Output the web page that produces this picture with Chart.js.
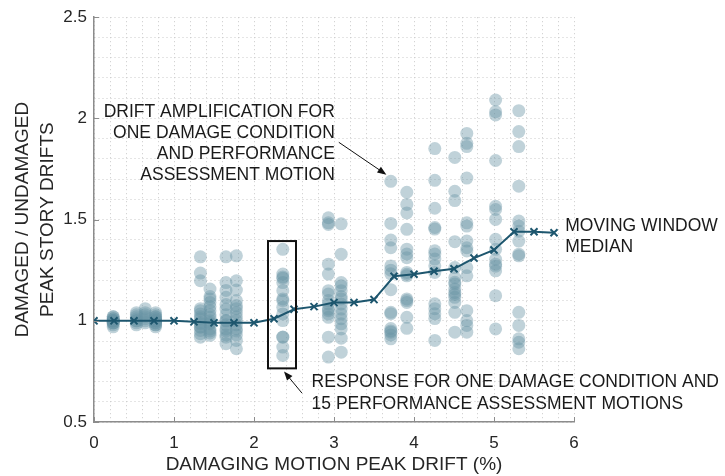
<!DOCTYPE html>
<html>
<head>
<meta charset="utf-8">
<script src="https://cdn.jsdelivr.net/npm/chart.js@4.4.1/dist/chart.umd.min.js"></script>
<style>
  html, body { margin: 0; padding: 0; background: #fff; }
  #wrap { width: 725px; height: 476px; }
</style>
</head>
<body>
<div id="wrap"><canvas id="driftChart"></canvas></div>
<script>
// Damaging-motion drift levels (%) of each damage condition
const driftLevels = [0.24, 0.53, 0.64, 0.77, 1.33, 1.45, 1.65, 1.78, 2.36, 2.93, 3.09, 3.71, 3.91, 4.26, 4.51, 4.66, 5.02, 5.31];

// Damaged / undamaged peak story drift ratios, one list per damage condition
const ratios024 = [1.0, 1.0, 0.99, 1.01, 1.0, 0.98, 1.02, 1.0, 0.99, 1.01, 1.0, 0.97, 1.02, 1.0, 0.99];
const ratios053 = [1.0, 1.01, 0.99, 1.03, 1.04, 1.0, 0.98, 1.02];
const ratios064 = [1.0, 1.06, 1.04, 1.02, 0.99, 1.01, 1.03];
const ratios077 = [1.0, 1.02, 0.98, 1.04, 0.97, 1.01, 0.99, 1.03, 1.0, 0.98, 1.02, 1.0, 0.99, 1.01, 1.0];
const ratios133 = [1.316, 1.236, 1.198, 1.06, 1.05, 1.034, 1.02, 1.01, 0.99, 0.985, 0.968, 0.952, 0.936, 0.919, 0.97];
const ratios145 = [1.157, 1.108, 1.09, 1.07, 1.05, 1.03, 1.017, 1.0, 0.99, 0.985, 0.96, 0.95, 0.94, 0.928, 1.12];
const ratios165 = [1.316, 1.189, 1.15, 1.116, 1.08, 1.058, 1.03, 1.001, 0.98, 0.96, 0.95, 0.93, 0.919, 0.887, 1.0];
const ratios178 = [1.321, 1.198, 1.152, 1.1, 1.075, 1.06, 1.04, 1.02, 1.001, 0.98, 0.96, 0.95, 0.93, 0.903, 0.862];
const ratios236 = [1.353, 1.231, 1.217, 1.21, 1.189, 1.149, 1.108, 1.10, 1.067, 1.034, 1.001, 0.919, 0.92, 0.870, 0.829];
const ratios293 = [1.509, 1.484, 1.476, 1.280, 1.231, 1.149, 1.132, 1.10, 1.083, 1.058, 1.05, 1.034, 1.017, 0.919, 0.821];
const ratios309 = [1.479, 1.329, 1.189, 1.173, 1.149, 1.12, 1.108, 1.083, 1.058, 1.034, 1.010, 0.985, 0.960, 0.914, 0.845];
const ratios371 = [1.689, 1.481, 1.399, 1.361, 1.271, 1.232, 1.154, 1.042, 1.035, 0.962, 0.944, 0.93, 0.911, 0.95, 1.25];
const ratios391 = [1.635, 1.575, 1.533, 1.452, 1.354, 1.312, 1.239, 1.222, 1.108, 1.091, 1.017, 0.963, 1.23, 1.10, 1.33];
const ratios426 = [1.851, 1.694, 1.556, 1.461, 1.453, 1.346, 1.330, 1.305, 1.272, 1.239, 1.084, 1.060, 1.035, 1.011, 0.903];
const ratios451 = [1.807, 1.640, 1.594, 1.391, 1.263, 1.214, 1.19, 1.182, 1.157, 1.140, 1.13, 1.116, 1.091, 1.042, 0.944];
const ratios466 = [1.926, 1.877, 1.861, 1.705, 1.484, 1.468, 1.394, 1.361, 1.345, 1.263, 1.222, 1.050, 1.001, 0.977, 0.944];
const ratios502 = [2.091, 2.033, 2.017, 1.792, 1.566, 1.550, 1.501, 1.403, 1.353, 1.304, 1.280, 1.27, 1.247, 1.124, 0.960];
const ratios531 = [2.038, 1.935, 1.861, 1.665, 1.493, 1.468, 1.443, 1.394, 1.329, 1.321, 1.042, 0.977, 0.911, 0.894, 0.862];

const ratioColumns = [ratios024, ratios053, ratios064, ratios077, ratios133, ratios145, ratios165, ratios178,
  ratios236, ratios293, ratios309, ratios371, ratios391, ratios426, ratios451, ratios466, ratios502, ratios531];

// Moving window median
const medianX = [0, 0.25, 0.5, 0.75, 1.0, 1.25, 1.5, 1.75, 2.0, 2.25, 2.5, 2.75, 3.0, 3.25, 3.5, 3.75, 4.0, 4.25, 4.5, 4.75, 5.0, 5.25, 5.5, 5.75];
const medianY = [1.0, 1.0, 1.0, 1.0, 1.0, 0.995, 0.99, 0.99, 0.99, 1.01, 1.057, 1.07, 1.09, 1.09, 1.105, 1.22, 1.23, 1.245, 1.257, 1.31, 1.35, 1.44, 1.44, 1.435];

// Axis tick labels
const xTickLabels = ['0', '1', '2', '3', '4', '5', '6'];
const yTickLabels = ['0.5', '1', '1.5', '2', '2.5'];

const labelFont = '17.5px "Liberation Sans", Arial, sans-serif';
const titleFont = { family: '"Liberation Sans", Arial, sans-serif', size: 19 };

// scatter points built from the columns
const scatterPoints = [];
driftLevels.forEach((x, i) => {
    ratioColumns[i].forEach(y => scatterPoints.push({ x: x, y: y }));
});
const medianPoints = medianX.map((x, i) => ({ x: x, y: medianY[i] }));

function isMajor(v, step) {
    return Math.abs(v / step - Math.round(v / step)) < 1e-6;
}

function drawArrow(ctx, x1, y1, x2, y2) {
    const ang = Math.atan2(y2 - y1, x2 - x1);
    const len = 9, half = 3.5;
    ctx.beginPath();
    ctx.moveTo(x1, y1);
    ctx.lineTo(x2 - Math.cos(ang) * len * 0.8, y2 - Math.sin(ang) * len * 0.8);
    ctx.stroke();
    ctx.beginPath();
    ctx.moveTo(x2, y2);
    ctx.lineTo(x2 - Math.cos(ang) * len - Math.sin(ang) * half, y2 - Math.sin(ang) * len + Math.cos(ang) * half);
    ctx.lineTo(x2 - Math.cos(ang) * len + Math.sin(ang) * half, y2 - Math.sin(ang) * len - Math.cos(ang) * half);
    ctx.closePath();
    ctx.fill();
}

// inward tick marks, box, arrows and notes
const notesPlugin = {
    id: 'notes',
    afterDraw(chart) {
        const ctx = chart.ctx;
        const xs = chart.scales.x, ys = chart.scales.y;
        const area = chart.chartArea;
        ctx.save();

        // major tick marks pointing inward
        ctx.strokeStyle = '#8c8c8c';
        ctx.lineWidth = 1;
        xTickLabels.forEach(t => {
            const px = Math.round(xs.getPixelForValue(Number(t))) + 0.5;
            ctx.beginPath();
            ctx.moveTo(px, area.bottom);
            ctx.lineTo(px, area.bottom - 5);
            ctx.stroke();
        });
        yTickLabels.forEach(t => {
            const py = Math.round(ys.getPixelForValue(Number(t))) + 0.5;
            ctx.beginPath();
            ctx.moveTo(area.left, py);
            ctx.lineTo(area.left + 5, py);
            ctx.stroke();
        });

        ctx.strokeStyle = '#111';
        ctx.fillStyle = '#111';

        // box around one damage condition
        const bx1 = xs.getPixelForValue(2.175), bx2 = xs.getPixelForValue(2.525);
        const by1 = ys.getPixelForValue(1.394), by2 = ys.getPixelForValue(0.765);
        ctx.lineWidth = 2;
        ctx.strokeRect(bx1, by1, bx2 - bx1, by2 - by1);

        // arrows
        ctx.lineWidth = 1;
        drawArrow(ctx, xs.getPixelForValue(3.06), ys.getPixelForValue(1.882),
            xs.getPixelForValue(3.655), ys.getPixelForValue(1.722));
        drawArrow(ctx, xs.getPixelForValue(2.6), ys.getPixelForValue(0.6425),
            xs.getPixelForValue(2.375), ys.getPixelForValue(0.75));

        // notes
        ctx.font = labelFont;
        ctx.textBaseline = 'middle';
        ctx.fillStyle = '#1a1a1a';
        ctx.textAlign = 'right';
        const ampLines = ['DRIFT AMPLIFICATION FOR', 'ONE DAMAGE CONDITION', 'AND PERFORMANCE', 'ASSESSMENT MOTION'];
        ampLines.forEach((s, i) => {
            ctx.fillText(s, xs.getPixelForValue(3.01), ys.getPixelForValue(2.031) + i * 21);
        });
        ctx.textAlign = 'left';
        const respLines = ['RESPONSE FOR ONE DAMAGE CONDITION AND', '15 PERFORMANCE ASSESSMENT MOTIONS'];
        respLines.forEach((s, i) => {
            ctx.fillText(s, xs.getPixelForValue(2.72), ys.getPixelForValue(0.695) + i * 21.5);
        });
        const medLines = ['MOVING WINDOW', 'MEDIAN'];
        medLines.forEach((s, i) => {
            ctx.fillText(s, xs.getPixelForValue(5.89), ys.getPixelForValue(1.47) + i * 21.5);
        });
        ctx.restore();
    }
};

const ctx = document.getElementById('driftChart').getContext('2d');
const driftChart = new Chart(ctx, {
    type: 'scatter',
    data: {
        datasets: [{
            label: 'Moving window median',
            data: medianPoints,
            showLine: true,
            order: 0,
            borderColor: '#1d566e',
            borderWidth: 2,
            pointStyle: 'crossRot',
            pointRadius: 5,
            pointBorderWidth: 2,
            pointBorderColor: '#1d566e',
            tension: 0
        }, {
            label: 'Drift amplification',
            data: scatterPoints,
            order: 1,
            backgroundColor: 'rgba(105, 148, 165, 0.42)',
            borderWidth: 0,
            pointRadius: 6.5,
            pointHoverRadius: 6.5
        }]
    },
    options: {
        responsive: true,
        maintainAspectRatio: false,
        animation: false,
        events: [],
        layout: { padding: { top: 15, right: 151, left: 0, bottom: 0 } },
        plugins: {
            legend: { display: false },
            tooltip: { enabled: false }
        },
        scales: {
            x: {
                type: 'linear',
                min: 0,
                max: 6,
                afterFit: function(scale) { scale.height = 54; },
                border: { display: true, color: '#8c8c8c', width: 1.5, dash: [1, 3] },
                grid: { color: '#cacaca', lineWidth: 1, drawTicks: false },
                ticks: {
                    stepSize: 0.2,
                    autoSkip: false,
                    maxRotation: 0,
                    padding: 11,
                    color: '#262626',
                    font: { family: '"Liberation Sans", Arial, sans-serif', size: 17 },
                    callback: function(value) {
                        return isMajor(value, 1) ? xTickLabels[Math.round(value)] : '';
                    }
                },
                title: {
                    display: true,
                    text: 'DAMAGING MOTION PEAK DRIFT (%)',
                    color: '#262626',
                    font: titleFont,
                    padding: { top: 0, bottom: 0 }
                }
            },
            y: {
                type: 'linear',
                min: 0.5,
                max: 2.5,
                afterFit: function(scale) { scale.width = 94; },
                border: { display: true, color: '#8c8c8c', width: 1.5, dash: [1, 3] },
                grid: { color: '#cacaca', lineWidth: 1, drawTicks: false },
                ticks: {
                    stepSize: 0.1,
                    autoSkip: false,
                    padding: 7,
                    color: '#262626',
                    font: { family: '"Liberation Sans", Arial, sans-serif', size: 17 },
                    callback: function(value) {
                        return isMajor(value, 0.5) ? yTickLabels[Math.round((value - 0.5) * 2)] : '';
                    }
                },
                title: {
                    display: true,
                    text: ['DAMAGED / UNDAMAGED', 'PEAK STORY DRIFTS'],
                    color: '#262626',
                    font: { family: titleFont.family, size: 19, lineHeight: 1.316 },
                    padding: { top: 10, bottom: 0 }
                }
            }
        }
    },
    plugins: [notesPlugin]
});
</script>
</body>
</html>
